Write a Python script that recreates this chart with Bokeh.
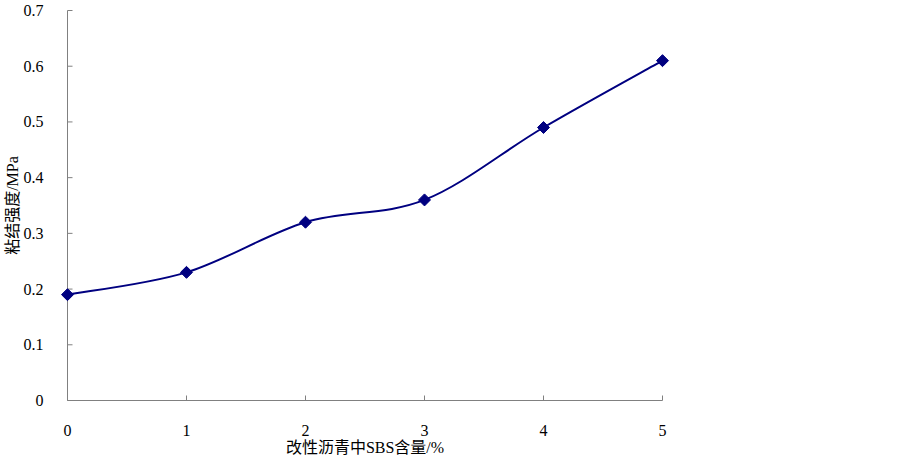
from bokeh.plotting import figure
from bokeh.models import Range1d, FixedTicker
from bokeh.embed import file_html
from bokeh.resources import INLINE
import math

# data
sbs_content = [0, 1, 2, 3, 4, 5]
bond_strength = [0.19, 0.23, 0.32, 0.36, 0.49, 0.61]
x_ticks = [0, 1, 2, 3, 4, 5]
y_ticks = [0, 0.1, 0.2, 0.3, 0.4, 0.5, 0.6, 0.7]
x_title = "改性沥青中SBS含量/%"
y_title = "粘结强度/MPa"

NAVY = "#000080"
AXIS = "#808080"
FONT = "'Liberation Serif', 'Noto Sans CJK SC'"

p = figure(width=895, height=458, output_backend="svg", toolbar_location=None,
           x_range=Range1d(-14 / 119, 5 + 14 / 119), y_range=Range1d(-3 / 557.14, 0.7 + 3 / 557.14),
           min_border_left=53, min_border_right=219, min_border_top=7, min_border_bottom=55)
p.outline_line_color = None
p.grid.visible = False
p.background_fill_color = "white"

for ax in (p.xaxis[0], p.yaxis[0]):
    ax.axis_line_color = None
    ax.major_tick_line_color = None
    ax.minor_tick_line_color = None
    ax.major_label_text_font = FONT
    ax.major_label_text_font_size = "16px"
    ax.major_label_text_color = "black"
    ax.axis_label_text_font = FONT
    ax.axis_label_text_font_size = "16px"
    ax.axis_label_text_font_style = "normal"
    ax.axis_label_text_color = "black"
    ax.axis_label_standoff = 0

p.xaxis.ticker = FixedTicker(ticks=x_ticks)
p.yaxis.ticker = FixedTicker(ticks=y_ticks)
p.yaxis.major_label_overrides = {0: "0"}
p.xaxis.major_label_standoff = 15
p.yaxis.major_label_standoff = 4
p.xaxis.axis_label = x_title
p.yaxis.axis_label = y_title

# axis lines drawn at data origin
p.segment(x0=[x_ticks[0]], y0=[y_ticks[0]], x1=[x_ticks[-1]], y1=[y_ticks[0]], line_color=AXIS, line_width=1)
p.segment(x0=[x_ticks[0]], y0=[y_ticks[0]], x1=[x_ticks[0]], y1=[y_ticks[-1]], line_color=AXIS, line_width=1)
# inward ticks
p.ray(x=[x_ticks[0]] * len(y_ticks), y=y_ticks, length=5, length_units="screen", angle=0,
      line_color=AXIS, line_width=1)
p.ray(x=x_ticks, y=[y_ticks[0]] * len(x_ticks), length=5, length_units="screen", angle=math.pi / 2,
      line_color=AXIS, line_width=1)

# smoothed curve (Catmull-Rom style bezier through the data points)
n = len(sbs_content)
x0s, y0s, x1s, y1s, cx0, cy0, cx1, cy1 = [], [], [], [], [], [], [], []
for i in range(n - 1):
    xa, ya = sbs_content[i], bond_strength[i]
    xb, yb = sbs_content[i + 1], bond_strength[i + 1]
    xp, yp = (sbs_content[i - 1], bond_strength[i - 1]) if i > 0 else (xa, ya)
    xn, yn = (sbs_content[i + 2], bond_strength[i + 2]) if i + 2 < n else (xb, yb)
    x0s.append(xa); y0s.append(ya); x1s.append(xb); y1s.append(yb)
    cx0.append(xa + (xb - xp) / 6); cy0.append(ya + (yb - yp) / 6)
    cx1.append(xb - (xn - xa) / 6); cy1.append(yb - (yn - ya) / 6)
p.bezier(x0=x0s, y0=y0s, x1=x1s, y1=y1s, cx0=cx0, cy0=cy0, cx1=cx1, cy1=cy1,
         line_color=NAVY, line_width=2)

p.scatter(sbs_content, bond_strength, marker="square", size=8.5, angle=math.pi / 4,
          fill_color=NAVY, line_color=NAVY)

open("out.html", "w").write(file_html(p, INLINE))
